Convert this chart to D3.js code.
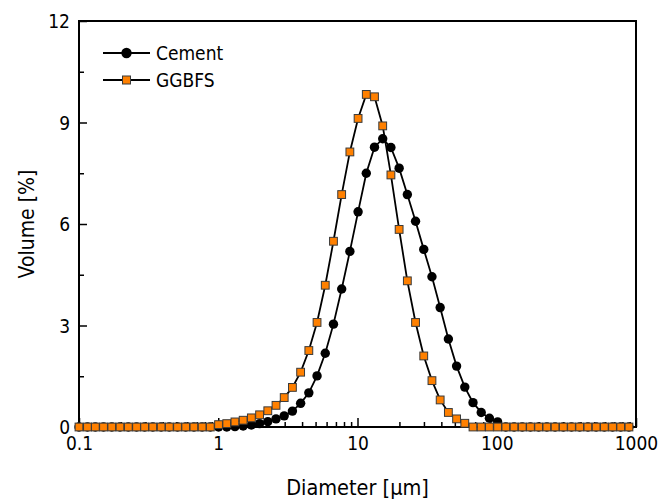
<!DOCTYPE html>
<html><head><meta charset="utf-8">
<script src="https://cdn.jsdelivr.net/npm/d3@7"></script>
<style>
html,body{margin:0;padding:0;background:#fff;}
svg{display:block;}
text{font-family:"DejaVu Sans Condensed","DejaVu Sans",sans-serif;fill:#000;}
</style></head><body>
<svg id="chart" width="672" height="501"></svg>
<script>
const diameters = [0.1, 0.115, 0.131, 0.15, 0.172, 0.197, 0.226, 0.259, 0.296, 0.339, 0.389, 0.445, 0.51, 0.584, 0.669, 0.766, 0.877,
  1.005, 1.151, 1.318, 1.51, 1.729, 1.981, 2.269, 2.599, 2.976, 3.409, 3.905, 4.472, 5.122, 5.867, 6.72, 7.697, 8.816,
  10.097, 11.565, 13.246, 15.172, 17.377, 19.904, 22.797, 26.111, 29.907, 34.255, 39.234, 44.938, 51.471, 58.953, 67.523, 77.339, 88.583,
  101.46, 116.21, 133.103, 152.453, 174.616, 200, 229.075, 262.376, 300.518, 344.206, 394.244, 451.556, 517.2, 592.387, 678.504, 777.141, 890.116];
const cement = [0,0,0,0,0,0,0,0,0,0,0,0,0,0,0,0,0,
  0, 0, 0.01, 0.03, 0.06, 0.10, 0.16, 0.24, 0.33, 0.47, 0.70, 1.01, 1.51, 2.18, 3.04, 4.08, 5.19,
  6.36, 7.50, 8.27, 8.52, 8.26, 7.65, 6.87, 6.08, 5.25, 4.44, 3.53, 2.60, 1.80, 1.18, 0.72, 0.43, 0.26,
  0.15, 0, 0,0,0,0,0,0,0,0,0,0,0,0,0,0,0];
const ggbfs = [0,0,0,0,0,0,0,0,0,0,0,0,0,0,0,0,0,
  0.07, 0.10, 0.15, 0.20, 0.27, 0.36, 0.48, 0.64, 0.87, 1.17, 1.62, 2.26, 3.09, 4.19, 5.49, 6.87, 8.13,
  9.12, 9.83, 9.76, 8.90, 7.45, 5.84, 4.32, 3.09, 2.10, 1.37, 0.80, 0.43, 0.24, 0.11, 0, 0, 0,
  0,0,0,0,0,0,0,0,0,0,0,0,0,0,0,0,0];
const seriesNames = ["Cement", "GGBFS"];
const xTickValues = [0.1, 1, 10, 100, 1000];
const xTickLabels = ["0.1", "1", "10", "100", "1000"];
const yTickValues = [0, 3, 6, 9, 12];
const xTitle = "Diameter [\u03bcm]";
const yTitle = "Volume [%]";

const svg = d3.select("#chart");
const L = 79, R = 636, T = 21, B = 427;
const x = d3.scaleLog().domain([0.1, 1000]).range([L, R]);
const y = d3.scaleLinear().domain([0, 12]).range([B, T]);

// minor ticks
const xMinor = [];
for (let e = -1; e < 3; e++) for (let k = 2; k <= 9; k++) xMinor.push(k * Math.pow(10, e));
const yMinor = [1.5, 4.5, 7.5, 10.5];

const gx = svg.append("g").attr("transform", `translate(0,${B})`);
gx.call(d3.axisBottom(x).tickValues(xMinor).tickSize(-5).tickFormat(""));
gx.append("g").call(d3.axisBottom(x).tickValues(xTickValues).tickSize(-9).tickPadding(10)
  .tickFormat((d, i) => xTickLabels[i]));
gx.selectAll(".domain").remove();
gx.selectAll("line").attr("stroke", "#000").attr("stroke-width", 1.5);
gx.selectAll("text").attr("font-size", 19);

const gy = svg.append("g").attr("transform", `translate(${L},0)`);
gy.call(d3.axisLeft(y).tickValues(yMinor).tickSize(-5).tickFormat(""));
gy.append("g").call(d3.axisLeft(y).tickValues(yTickValues).tickSize(-8).tickPadding(9).tickFormat(d3.format("d")));
gy.selectAll(".domain").remove();
gy.selectAll("line").attr("stroke", "#000").attr("stroke-width", 1.5);
gy.selectAll("text").attr("font-size", 19).attr("dy", "0.36em");

// frame
svg.append("rect").attr("x", L).attr("y", T).attr("width", R - L).attr("height", B - T)
  .attr("fill", "none").attr("stroke", "#000").attr("stroke-width", 2);

const line = d3.line().x(d => x(d[0])).y(d => y(d[1]));
const cData = diameters.map((d, i) => [d, cement[i]]);
const gData = diameters.map((d, i) => [d, ggbfs[i]]);

svg.append("path").datum(cData).attr("d", line).attr("fill", "none").attr("stroke", "#000").attr("stroke-width", 1.8);
svg.append("g").selectAll("circle").data(cData).join("circle")
  .attr("cx", d => x(d[0])).attr("cy", d => y(d[1])).attr("r", 4.7).attr("fill", "#000");

svg.append("path").datum(gData).attr("d", line).attr("fill", "none").attr("stroke", "#000").attr("stroke-width", 1.8);
const sq = 7.8;
svg.append("g").selectAll("rect").data(gData).join("rect")
  .attr("x", d => x(d[0]) - sq / 2).attr("y", d => y(d[1]) - sq / 2)
  .attr("width", sq).attr("height", sq).attr("fill", "#ff8000").attr("stroke", "#3a3a3a").attr("stroke-width", 1);

// legend
const leg = svg.append("g");
[0, 1].forEach(i => {
  const ly = 53 + i * 27;
  leg.append("line").attr("x1", 103).attr("x2", 150).attr("y1", ly).attr("y2", ly).attr("stroke", "#000").attr("stroke-width", 1.8);
  if (i === 0) leg.append("circle").attr("cx", 126.5).attr("cy", ly).attr("r", 5.2).attr("fill", "#000");
  else leg.append("rect").attr("x", 126.5 - 4).attr("y", ly - 4).attr("width", 8).attr("height", 8)
    .attr("fill", "#ff8000").attr("stroke", "#3a3a3a").attr("stroke-width", 1);
  leg.append("text").attr("x", 156).attr("y", ly).attr("dy", "0.36em").attr("font-size", 19).text(seriesNames[i]);
});

svg.append("text").attr("x", (L + R) / 2).attr("y", 495).attr("text-anchor", "middle").attr("font-size", 21.5).text(xTitle);
svg.append("text").attr("transform", `translate(34,${(T + B) / 2}) rotate(-90)`).attr("text-anchor", "middle")
  .attr("font-size", 21).text(yTitle);
</script>
</body></html>
